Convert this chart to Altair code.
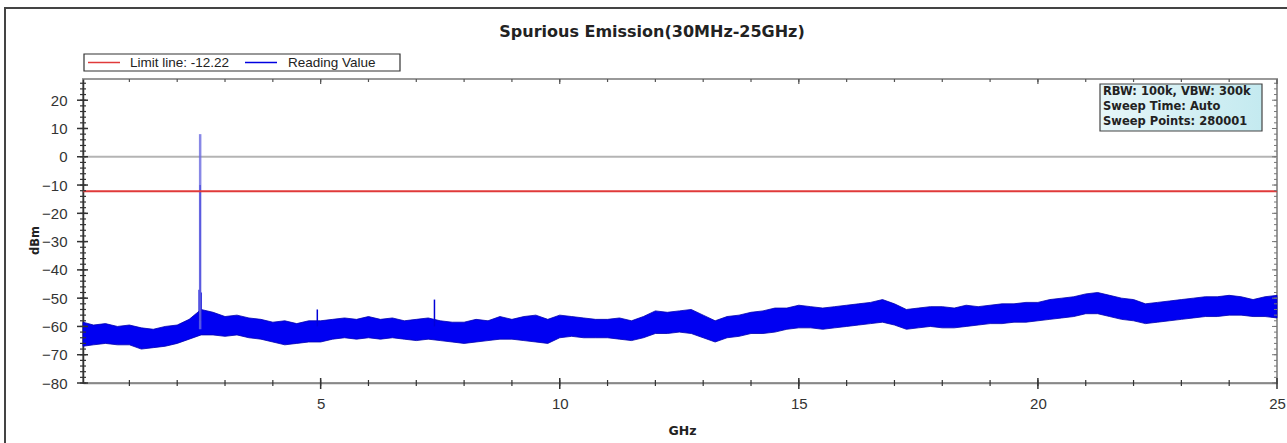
import altair as alt
import pandas as pd

# ---------------- data ----------------
FREQ = [0.03, 0.25, 0.5, 0.75, 1.0, 1.25, 1.5, 1.75, 2.0, 2.25, 2.5, 2.75,
        3.0, 3.25, 3.5, 3.75, 4.0, 4.25, 4.5, 4.75, 5.0, 5.25, 5.5, 5.75,
        6.0, 6.25, 6.5, 6.75, 7.0, 7.25, 7.5, 7.75, 8.0, 8.25, 8.5, 8.75,
        9.0, 9.25, 9.5, 9.75, 10.0, 10.25, 10.5, 10.75, 11.0, 11.25, 11.5, 11.75,
        12.0, 12.25, 12.5, 12.75, 13.0, 13.25, 13.5, 13.75, 14.0, 14.25, 14.5, 14.75,
        15.0, 15.25, 15.5, 15.75, 16.0, 16.25, 16.5, 16.75, 17.0, 17.25, 17.5, 17.75,
        18.0, 18.25, 18.5, 18.75, 19.0, 19.25, 19.5, 19.75, 20.0, 20.25, 20.5, 20.75,
        21.0, 21.25, 21.5, 21.75, 22.0, 22.25, 22.5, 22.75, 23.0, 23.25, 23.5, 23.75,
        24.0, 24.25, 24.5, 24.75, 25.0]

TOP = [-58.5, -59.5, -59, -60, -59.5, -60.5, -61, -60, -59.5, -57.5, -54, -55,
       -56.5, -56, -57, -57.5, -58.5, -58, -59, -58, -58, -57.5, -57, -57.5,
       -56.5, -57.5, -57, -58, -57.5, -57, -58, -58.5, -58.5, -57.5, -58, -56.5,
       -57.5, -56.5, -56, -57.5, -56, -56.5, -57, -57.5, -57.5, -57, -58, -56.5,
       -54.5, -55, -54.5, -54, -56, -58, -56.5, -56, -55, -54.5, -53.5, -53.5,
       -52.5, -53, -53.5, -53, -52.5, -52, -51.5, -50.5, -52, -54, -53.5, -53,
       -53, -53.5, -52.5, -53, -52.5, -52, -52, -51.5, -51.5, -50.5, -50, -49.5,
       -48.5, -48, -49, -50, -50.5, -52, -51.5, -51, -50.5, -50, -49.5, -49.5,
       -49, -49.5, -50.5, -49.5, -49]

BOT = [-67, -66.5, -66, -66.5, -66.5, -68, -67.5, -67, -66, -64.5, -63, -63,
       -63.5, -63, -64, -64.5, -65.5, -66.5, -66, -65.5, -65.5, -64.5, -64, -64.5,
       -64, -64.5, -64, -64.5, -65, -64.5, -65, -65.5, -66, -65.5, -65, -64.5,
       -64.5, -65, -65.5, -66, -64, -63.5, -64, -64, -64, -64.5, -65, -64,
       -62.5, -62.5, -62, -62.5, -64, -65.5, -64, -63.5, -62.5, -62.5, -62, -61,
       -60.5, -60.5, -61, -60.5, -60, -59.5, -59, -58.5, -59.5, -61, -60.5, -60,
       -60.5, -60.5, -60, -59.5, -59, -59, -58.5, -58.5, -58, -57.5, -57, -56.5,
       -55.5, -55.5, -56.5, -57.5, -58, -59, -58.5, -58, -57.5, -57, -56.5, -56.5,
       -56, -56, -56.5, -56.5, -57]

# spikes: frequency, top, base
SPIKE_F = [2.46, 2.48, 2.50, 4.93, 7.38]
SPIKE_TOP = [-47, -10, -48, -54, -50.5]
SPIKE_BASE = [-58, -58, -58, -60, -60]
PEAK_F = [2.48]
PEAK_TOP = [8]
PEAK_BASE = [-61]

LIMIT = -12.22
LEGEND_LABELS = ["Limit line: -12.22", "Reading Value"]
INFO_TEXT = "RBW: 100k, VBW: 300k\nSweep Time: Auto\nSweep Points: 280001"
TITLE = "Spurious Emission(30MHz-25GHz)"
X_LABELS = [5, 10, 15, 20, 25]
Y_LABELS = [-80, -70, -60, -50, -40, -30, -20, -10, 0, 10, 20]
X_MINOR = [v for v in range(1, 25)]
Y_MINOR = [v for v in range(-80, 28, 2)]

# ---------------- chart ----------------
W, H = 1194, 304
FONT = "Liberation Sans"
BOLD_FONT = "DejaVu Sans"
xs = alt.Scale(domain=[0.03, 25], nice=False, zero=False)
ys = alt.Scale(domain=[-80, 27.5], nice=False, zero=False)

X_AXIS = alt.Axis(
    values=X_LABELS, title="GHz", titleFont=BOLD_FONT, titleFontSize=12.5,
    titleFontWeight="bold", titleColor="#222", titleX=599, titleY=47,
    titleAlign="center", titleBaseline="middle",
    labelFont=FONT, labelFontSize=15, labelColor="#333", labelPadding=13,
    ticks=False, domainColor="#888", domainWidth=1.5, grid=False,
    labelFlush=False)
Y_AXIS = alt.Axis(
    values=Y_LABELS, title="dBm", titleFont=BOLD_FONT, titleFontSize=11.5,
    titleFontWeight="bold", titleColor="#222", titleX=-48, titleY=161,
    titleAngle=270, titleAlign="center", titleBaseline="middle",
    labelFont=FONT, labelFontSize=15, labelColor="#333", labelPadding=16,
    ticks=False, domainColor="#333", domainWidth=1.5, grid=False)


def X(field):
    return alt.X(field, scale=xs, axis=X_AXIS)


def Y(field):
    return alt.Y(field, scale=ys, axis=Y_AXIS)


band_df = pd.DataFrame({"f": FREQ, "top": TOP, "bot": BOT})
spike_df = pd.DataFrame({"f": SPIKE_F, "top": SPIKE_TOP, "base": SPIKE_BASE})
peak_df = pd.DataFrame({"f": PEAK_F, "top": PEAK_TOP, "base": PEAK_BASE})
one = pd.DataFrame({"a": [0]})

band = alt.Chart(band_df).mark_area(
    color="#0000f2", stroke="#0000b0", strokeWidth=0.8, interpolate="linear"
).encode(x=X("f:Q"), y=Y("top:Q"), y2="bot:Q")

zero_line = alt.Chart(pd.DataFrame({"y": [0]})).mark_rule(
    color="#b4b4b4", strokeWidth=2).encode(y=Y("y:Q"))
limit_line = alt.Chart(pd.DataFrame({"y": [LIMIT]})).mark_rule(
    color="#e03a3a", strokeWidth=2).encode(y=Y("y:Q"))

peak = alt.Chart(peak_df).mark_rule(color="#6a6ae0", strokeWidth=2.5, opacity=0.8).encode(
    x=X("f:Q"), y=Y("top:Q"), y2="base:Q")
spikes = alt.Chart(spike_df).mark_rule(color="#0000d8", strokeWidth=1.5).encode(
    x=X("f:Q"), y=Y("top:Q"), y2="base:Q")

# axis tick marks (major cross the axis line, minor are shorter)
y_minor_df = pd.DataFrame({"v": Y_MINOR})
y_major_df = pd.DataFrame({"v": Y_LABELS})
x_minor_df = pd.DataFrame({"v": X_MINOR})
x_major_df = pd.DataFrame({"v": X_LABELS})
tick_color = "#333"
yl_minor = alt.Chart(y_minor_df).mark_rule(color=tick_color, strokeWidth=1.2).encode(
    y=Y("v:Q"), x=alt.value(-3), x2=alt.value(3))
yl_major = alt.Chart(y_major_df).mark_rule(color=tick_color, strokeWidth=1.5).encode(
    y=Y("v:Q"), x=alt.value(-6), x2=alt.value(5))
yr_minor = alt.Chart(y_minor_df).mark_rule(color="#777", strokeWidth=1).encode(
    y=Y("v:Q"), x=alt.value(W - 3), x2=alt.value(W))
yr_major = alt.Chart(y_major_df).mark_rule(color="#777", strokeWidth=1).encode(
    y=Y("v:Q"), x=alt.value(W - 5), x2=alt.value(W))
xb_minor = alt.Chart(x_minor_df).mark_rule(color=tick_color, strokeWidth=1.2).encode(
    x=X("v:Q"), y=alt.value(H - 3), y2=alt.value(H + 3))
xb_major = alt.Chart(x_major_df).mark_rule(color=tick_color, strokeWidth=1.5).encode(
    x=X("v:Q"), y=alt.value(H - 5), y2=alt.value(H + 6))
xt_minor = alt.Chart(x_minor_df).mark_rule(color="#555", strokeWidth=1.2).encode(
    x=X("v:Q"), y=alt.value(0), y2=alt.value(3))
xt_major = alt.Chart(x_major_df).mark_rule(color="#555", strokeWidth=1.2).encode(
    x=X("v:Q"), y=alt.value(0), y2=alt.value(5))

# outer frame of the picture
frame = alt.Chart(one).mark_rect(fill="transparent", stroke="#444", strokeWidth=2).encode(
    x=alt.value(-78), x2=alt.value(W + 40), y=alt.value(-71), y2=alt.value(H + 90))

# title
title = alt.Chart(one).mark_text(
    text=TITLE, font=BOLD_FONT, fontSize=16, fontWeight="bold", color="#222",
    align="center", baseline="middle").encode(x=alt.value(569), y=alt.value(-47))

# legend box
leg_box = alt.Chart(one).mark_rect(fill="white", stroke="#333", strokeWidth=1.2).encode(
    x=alt.value(1), x2=alt.value(317), y=alt.value(-25), y2=alt.value(-8))
leg_red = alt.Chart(one).mark_rule(color="#e03a3a", strokeWidth=1.5).encode(
    x=alt.value(5), x2=alt.value(37), y=alt.value(-16.5))
leg_blue = alt.Chart(one).mark_rule(color="#0000e0", strokeWidth=1.5).encode(
    x=alt.value(162), x2=alt.value(194), y=alt.value(-16.5))
leg_t1 = alt.Chart(one).mark_text(
    text=LEGEND_LABELS[0], font=FONT, fontSize=13.5, color="#222",
    align="left", baseline="middle").encode(x=alt.value(47), y=alt.value(-16))
leg_t2 = alt.Chart(one).mark_text(
    text=LEGEND_LABELS[1], font=FONT, fontSize=13.5, color="#222",
    align="left", baseline="middle").encode(x=alt.value(205), y=alt.value(-16))

# info box
info_box = alt.Chart(one).mark_rect(
    fill=alt.Gradient(gradient="linear", x1=0, x2=1, y1=0, y2=0,
                      stops=[alt.GradientStop(color="#e6f6f8", offset=0),
                             alt.GradientStop(color="#c4eaf0", offset=1)]),
    stroke="#444", strokeWidth=1.2).encode(
    x=alt.value(W - 177), x2=alt.value(W - 15), y=alt.value(5), y2=alt.value(52))
info_text = alt.Chart(one).mark_text(
    text=INFO_TEXT, lineBreak="\n", lineHeight=15, font=BOLD_FONT, fontSize=11.5,
    fontWeight="bold", color="#222", align="left", baseline="middle").encode(
    x=alt.value(W - 174), y=alt.value(13))

chart = alt.layer(
    frame, zero_line, band, spikes, peak, limit_line,
    yl_minor, yl_major, yr_minor, yr_major, xb_minor, xb_major, xt_minor, xt_major,
    title, leg_box, leg_red, leg_blue, leg_t1, leg_t2, info_box, info_text,
).properties(
    width=W, height=H,
    autosize=alt.AutoSizeParams(type="none"),
    padding={"left": 83, "top": 79, "right": 10, "bottom": 60},
    background="white",
).configure_view(stroke="#999", strokeWidth=2)

chart.save("out.html", embed_options={"renderer": "svg", "actions": False})
